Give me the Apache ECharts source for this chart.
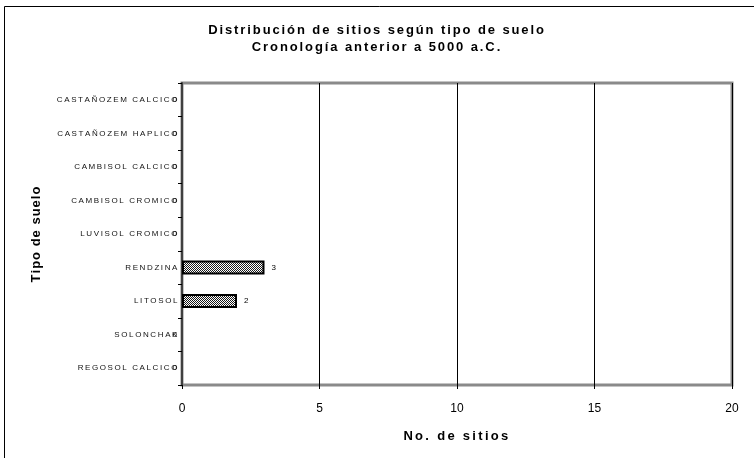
<!DOCTYPE html>
<html>
<head>
<meta charset="utf-8">
<script src="https://cdn.jsdelivr.net/npm/echarts@6/dist/echarts.min.js"></script>
<style>
  html, body { margin: 0; padding: 0; background: #fff; }
  #chart { width: 754px; height: 458px; }
</style>
</head>
<body>
<div id="chart"></div>
<script>
// Soil types, listed bottom to top as they appear on the axis
const categories = [
  'REGOSOL CALCICO',
  'SOLONCHAK',
  'LITOSOL',
  'RENDZINA',
  'LUVISOL CROMICO',
  'CAMBISOL CROMICO',
  'CAMBISOL CALCICO',
  'CASTAÑOZEM HAPLICO',
  'CASTAÑOZEM CALCICO'
];
// Number of sites for each soil type
const sites = [0, 0, 2, 3, 0, 0, 0, 0, 0];
// Value axis range
const xMin = 0;
const xMax = 20;
const xStep = 5;

const titleLine1 = 'Distribución de sitios según tipo de suelo';
const titleLine2 = 'Cronología anterior a 5000 a.C.';
const xName = 'No. de sitios';
const yName = 'Tipo de suelo';

const FONT = '"Liberation Sans", Arial, sans-serif';

// Wrap every character in a rich token so it can carry extra tracking
function spaced(str, key) {
  return str.split('').map(ch => '{' + key + '|' + ch + '}').join('');
}

// Small checkered fill for the bars
function checkerPattern() {
  const c = document.createElement('canvas');
  c.width = 2; c.height = 2;
  const g = c.getContext('2d');
  g.fillStyle = '#ffffff';
  g.fillRect(0, 0, 2, 2);
  g.fillStyle = '#1a1a1a';
  g.fillRect(0, 0, 1, 1);
  g.fillRect(1, 1, 1, 1);
  return c;
}

const pattern = { image: checkerPattern(), repeat: 'repeat' };

// Zero-valued bars get no outline; their value label sits left of the axis
const barData = sites.map(v => ({
  value: v,
  itemStyle: v === 0 ? { borderWidth: 0 } : {},
  label: v === 0
    ? { position: 'left', distance: 5 }
    : { position: 'right', distance: 7 }
}));

const titleRich = { t: { fontFamily: FONT, fontSize: 13, fontWeight: 'bold', color: '#000', padding: [0, 1.9, 0, 0] } };

const chart = echarts.init(document.getElementById('chart'), null, { renderer: 'canvas' });

chart.setOption({
  animation: false,
  backgroundColor: '#ffffff',
  title: {
    left: 'center',
    top: 24,
    padding: 0,
    itemGap: 4,
    text: spaced(titleLine1, 't'),
    subtext: spaced(titleLine2, 't'),
    textStyle: { rich: titleRich },
    subtextStyle: { rich: titleRich }
  },
  graphic: [{
    type: 'rect',
    shape: { x: 4.5, y: 6.5, width: 800, height: 500 },
    style: { fill: 'none', stroke: '#000', lineWidth: 1 },
    silent: true,
    z: 0
  }],
  grid: {
    left: 182,
    right: 22,
    top: 83,
    bottom: 73,
    show: true,
    borderColor: '#8a8a8a',
    borderWidth: 3,
    backgroundColor: 'transparent'
  },
  xAxis: {
    type: 'value',
    min: xMin,
    max: xMax,
    interval: xStep,
    name: spaced(xName, 'n'),
    nameLocation: 'middle',
    nameGap: 45,
    nameTextStyle: {
      rich: { n: { fontFamily: FONT, fontSize: 13, fontWeight: 'bold', color: '#000', padding: [0, 2.3, 0, 0] } }
    },
    axisLine: { show: false },
    axisTick: { show: true, length: 4, lineStyle: { color: '#000', width: 1 } },
    axisLabel: { color: '#000', fontFamily: FONT, fontSize: 12, margin: 18 },
    splitLine: { show: true, lineStyle: { color: '#000', width: 1 } }
  },
  yAxis: {
    type: 'category',
    data: categories,
    name: spaced(yName, 'n'),
    nameLocation: 'middle',
    nameGap: 139,
    nameRotate: 90,
    nameTextStyle: {
      rich: { n: { fontFamily: FONT, fontSize: 13, fontWeight: 'bold', color: '#000', padding: [0, 1.0, 0, 0] } }
    },
    axisLine: { show: true, lineStyle: { color: '#404040', width: 2 } },
    axisTick: { show: true, length: 4, alignWithLabel: false, lineStyle: { color: '#000', width: 1 } },
    axisLabel: {
      margin: 3,
      formatter: v => spaced(v, 'c'),
      rich: { c: { color: '#111', fontFamily: FONT, fontSize: 8, padding: [0, 1.6, 0, 0] } }
    },
    splitLine: { show: false }
  },
  series: [{
    type: 'bar',
    data: barData,
    barWidth: 14,
    itemStyle: { color: pattern, borderColor: '#000', borderWidth: 2 },
    label: { show: true, color: '#000', fontFamily: FONT, fontSize: 8 }
  }]
});
</script>
</body>
</html>
